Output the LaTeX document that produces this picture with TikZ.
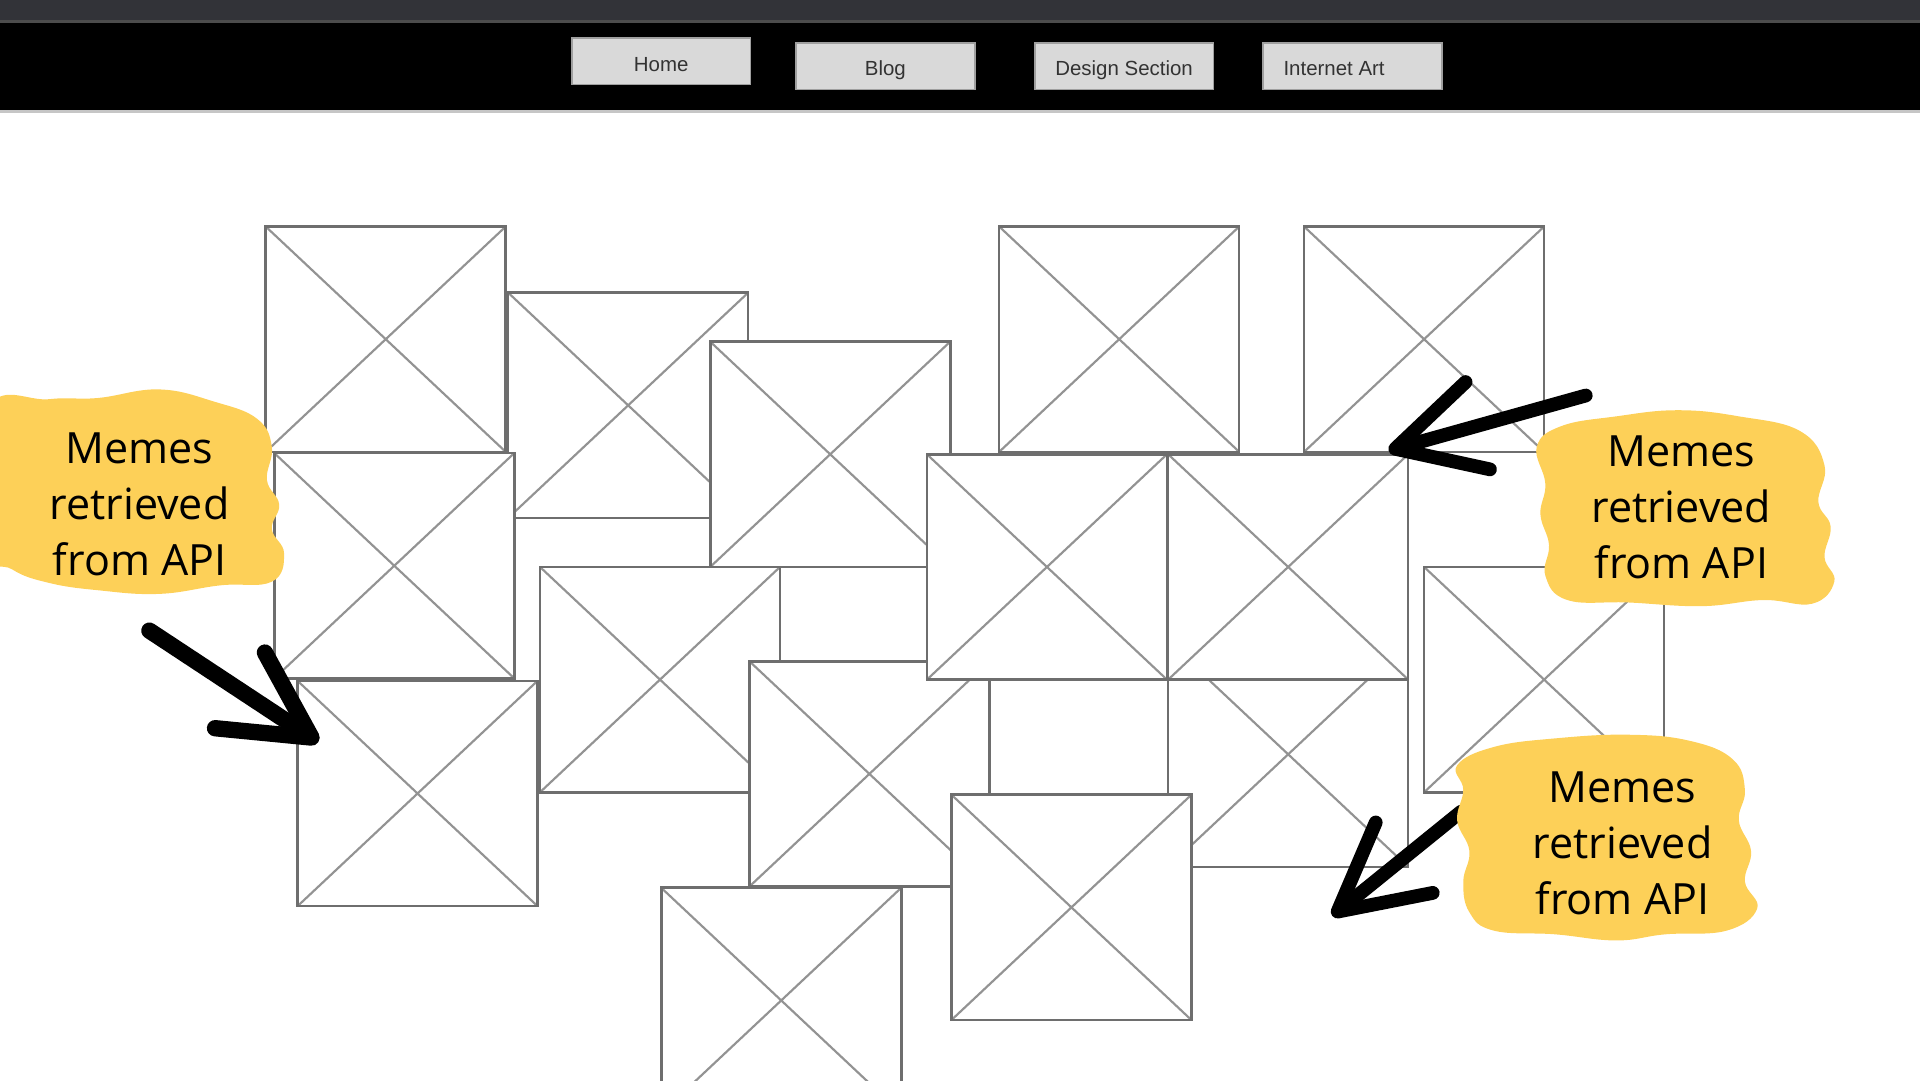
\documentclass[tikz,border=0pt]{standalone}
\usepackage{fontspec}
\setmainfont{Open Sans}
\newfontfamily\navfont{Liberation Sans}
\usetikzlibrary{arrows.meta}
\definecolor{memeyellow}{RGB}{253,208,88}
\definecolor{topgray}{RGB}{50,51,56}
\definecolor{btngray}{RGB}{217,217,217}
\definecolor{boxgray}{RGB}{110,110,110}
\tikzset{
  imgbox/.style={anchor=north west, draw=boxgray, line width=0.6pt, fill=white,
    minimum width=1.96cm, minimum height=1.84cm, inner sep=0pt, outer sep=0pt,
    path picture={\draw[crossline] (path picture bounding box.north west) -- (path picture bounding box.south east)
      (path picture bounding box.north east) -- (path picture bounding box.south west);}},
  crossline/.style={draw=gray!85, line width=0.5pt},
  navbtn/.style={fill=btngray, draw=gray!75, line width=0.4pt, minimum width=1.46cm,
    minimum height=0.38cm, inner sep=0pt, text height=0.19cm, text depth=0.03cm,
    font=\navfont\fontsize{4.75}{6}\selectfont, text=black!80},
  memo/.style={align=center, font=\fontsize{10}{13}\selectfont, text=black},
  brush/.style={line width=3.2pt, line cap=round, line join=round,
    -{Straight Barb[length=7mm, width=7.4mm, round]}}
}
\begin{document}
\begin{tikzpicture}
  \useasboundingbox (0,0) rectangle (15.68,-8.82);
  \clip (0,0) rectangle (15.68,-8.82);
  % navigation bar
  \fill[topgray] (0,0) rectangle (15.68,-0.16);
  \fill[gray!60!black] (0,-0.16) rectangle (15.68,-0.19);
  \fill[black] (0,-0.19) rectangle (15.68,-0.90);
  \fill[gray!45] (0,-0.90) rectangle (15.68,-0.92);
  \node[navbtn] at (5.40,-0.50) (home) {Home};
  \node[navbtn] at (7.23,-0.54) (blog) {Blog};
  \node[navbtn] at (9.18,-0.54) (design) {Design Section};
  \node[navbtn] at (11.045,-0.54) (inetart) {Internet Art\hspace*{0.3cm}};
  % image placeholders
  \node[imgbox] at (2.17,-1.85) (m1) {};
  \node[imgbox] at (4.15,-2.39) (m2) {};
  \node[imgbox] at (5.80,-2.79) (m3) {};
  \node[imgbox] at (8.16,-1.85) (m4) {};
  \node[imgbox] at (10.65,-1.85) (m5) {};
  \node[imgbox] at (2.24,-3.70) (m6) {};
  \node[imgbox] at (4.41,-4.63) (m7) {};
  \node[imgbox] at (2.43,-5.56) (m8) {};
  \node[imgbox] at (9.54,-5.24) (m9) {};
  \node[imgbox] at (6.12,-5.40) (m10) {};
  \node[imgbox] at (5.40,-7.25) (m11) {};
  \node[imgbox] at (7.77,-6.49) (m12) {};
  \node[imgbox] at (7.57,-3.71) (m13) {};
  \node[imgbox] at (9.54,-3.71) (m14) {};
  \node[imgbox] at (11.63,-4.63) (m15) {};
  % arrows
  \coordinate (t1) at (1.22,-5.15);
  \coordinate (h1) at (2.60,-6.06);
  \coordinate (t2) at (12.95,-3.23);
  \coordinate (h2) at (11.34,-3.68);
  \coordinate (t3) at (11.93,-6.63);
  \coordinate (h3) at (10.88,-7.48);
  \draw[brush, line width=3.8pt] (t1) -- (h1);
  \draw[brush] (t2) -- (h2);
  \draw[brush] (t3) -- (h3);
  % notes
  \fill[memeyellow] plot[smooth cycle, tension=0.7] coordinates {
    (-0.1,-3.35) (0.4,-3.26) (0.8,-3.25) (1.3,-3.18) (1.75,-3.28) (2.10,-3.42) (2.22,-3.65)
    (2.18,-3.92) (2.28,-4.12) (2.22,-4.32) (2.32,-4.52) (2.22,-4.75) (1.80,-4.78)
    (1.30,-4.85) (0.80,-4.82) (0.40,-4.76) (0.10,-4.65) (-0.1,-4.45)};
  \fill[memeyellow] plot[smooth cycle, tension=0.7] coordinates {
    (12.55,-3.65) (12.75,-3.48) (13.20,-3.40) (13.70,-3.35) (14.20,-3.40) (14.70,-3.52)
    (14.90,-3.80) (14.85,-4.10) (14.95,-4.30) (14.90,-4.55) (14.98,-4.75) (14.80,-4.93)
    (14.40,-4.90) (13.90,-4.95) (13.30,-4.92) (12.80,-4.90) (12.62,-4.70) (12.65,-4.45)
    (12.58,-4.20) (12.62,-3.95)};
  \fill[memeyellow] plot[smooth cycle, tension=0.7] coordinates {
    (11.90,-6.25) (12.20,-6.10) (12.70,-6.03) (13.30,-6.00) (13.80,-6.05) (14.15,-6.20)
    (14.25,-6.45) (14.20,-6.70) (14.30,-6.95) (14.25,-7.20) (14.35,-7.42) (14.10,-7.60)
    (13.60,-7.63) (13.20,-7.68) (12.70,-7.63) (12.20,-7.60) (12.00,-7.45) (11.95,-7.20)
    (12.00,-6.95) (11.90,-6.70) (11.95,-6.45)};
  \node[memo] at (1.14,-4.12) (note1) {Memes\\retrieved\\from API};
  \node[memo] at (13.73,-4.14) (note2) {Memes\\retrieved\\from API};
  \node[memo] at (13.25,-6.89) (note3) {Memes\\retrieved\\from API};
\end{tikzpicture}
\end{document}
